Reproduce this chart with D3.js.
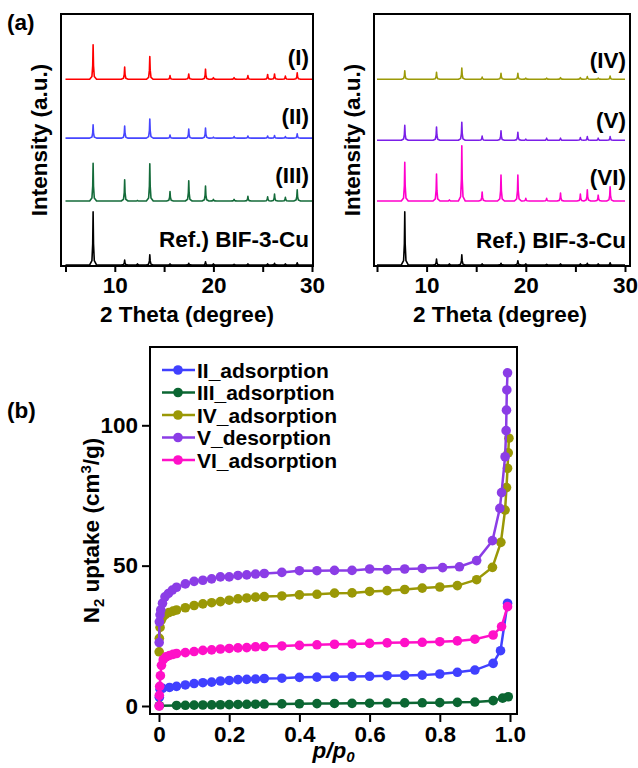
<!DOCTYPE html>
<html><head><meta charset="utf-8">
<script src="https://cdn.jsdelivr.net/npm/d3@7/dist/d3.min.js"></script>
<style>
html,body{margin:0;padding:0;background:#fff;}
text{font-family:"Liberation Sans",Arial,Helvetica,sans-serif;font-weight:bold;fill:#000;}
</style></head>
<body><svg id="c" width="638" height="768"></svg>
<script>
// ---------- DATA ----------
// XRD peak positions (2 theta, degree) shared by all patterns
const peakPos = [7.8, 11.0, 12.3, 13.55, 15.6, 17.5, 19.2, 20.0, 22.1, 23.5, 25.5, 26.2, 27.3, 28.5];
// peak heights (a.u.) per pattern, offsets (a.u.) of each trace
const xrdI    = [65, 23, 0, 43, 7, 10, 19, 3, 3, 7, 9, 10, 6, 12];
const xrdII   = [25, 23, 0, 36, 6, 17, 19, 2, 3, 4, 4, 5, 3, 8];
const xrdIII  = [71, 40, 1, 70, 18, 38, 28, 3, 3, 9, 8, 13, 7, 21];
const xrdRefL = [100, 9, 2, 19, 2, 3, 6, 2, 1, 2, 2, 3, 2, 4];
const xrdIV   = [16, 13, 0, 21, 4, 11, 11, 2, 2, 3, 3, 5, 2, 6];
const xrdV    = [28, 25, 0, 34, 8, 18, 15, 2, 4, 4, 5, 7, 4, 7];
const xrdVI   = [73, 51, 2, 104, 17, 49, 49, 5, 5, 15, 13, 21, 11, 27];
const xrdRefR = [100, 11, 2, 19, 2, 3, 8, 2, 1, 2, 2, 3, 2, 4];
const leftLabels  = ["(I)", "(II)", "(III)", "Ref.) BIF-3-Cu"];
const rightLabels = ["(IV)", "(V)", "(VI)", "Ref.) BIF-3-Cu"];
const leftOffsets  = [352, 241, 122.5, 2];
const rightOffsets = [352, 237, 122.5, 2];
const xrdTicks = [5, 10, 15, 20, 25, 30];
const xrdTickLabels = [10, 20, 30];

// N2 isotherms: relative pressure p/p0 and uptake (cm3/g)
const pII  = [0.001, 0.003, 0.01, 0.03, 0.05, 0.075, 0.1, 0.125, 0.15, 0.175, 0.2, 0.225, 0.25, 0.275, 0.3, 0.35, 0.4, 0.45, 0.5, 0.55, 0.6, 0.65, 0.7, 0.75, 0.8, 0.85, 0.9, 0.952, 0.973, 0.993];
const vII  = [3.1, 6.0, 6.3, 6.6, 7.0, 7.5, 8.0, 8.3, 8.5, 8.9, 9.1, 9.4, 9.5, 9.6, 9.8, 9.9, 10.2, 10.3, 10.4, 10.5, 10.6, 10.8, 10.9, 11.0, 11.4, 12.0, 12.8, 15.2, 19.7, 36.6];
const pIII = [0.001, 0.05, 0.075, 0.1, 0.125, 0.15, 0.175, 0.2, 0.225, 0.25, 0.275, 0.3, 0.35, 0.4, 0.45, 0.5, 0.55, 0.6, 0.65, 0.7, 0.75, 0.8, 0.85, 0.9, 0.952, 0.979, 0.995];
const vIII = [0.1, 0.2, 0.25, 0.3, 0.35, 0.4, 0.45, 0.5, 0.55, 0.6, 0.65, 0.7, 0.75, 0.8, 0.85, 0.9, 0.95, 1.0, 1.05, 1.1, 1.15, 1.2, 1.3, 1.4, 1.9, 2.8, 3.3];
const pIV  = [0.0005, 0.001, 0.003, 0.006, 0.01, 0.018, 0.028, 0.04, 0.05, 0.075, 0.1, 0.125, 0.15, 0.175, 0.2, 0.225, 0.25, 0.275, 0.3, 0.35, 0.4, 0.45, 0.5, 0.55, 0.6, 0.65, 0.7, 0.75, 0.8, 0.85, 0.905, 0.95, 0.974, 0.986, 0.99, 0.993, 0.995, 0.997];
const vIV  = [19.3, 24.1, 28.0, 30.5, 31.5, 32.6, 33.3, 33.8, 34.2, 35.0, 35.8, 36.4, 36.8, 37.2, 37.7, 38.2, 38.5, 38.8, 39.0, 39.2, 39.6, 39.8, 40.2, 40.3, 40.8, 41.1, 41.5, 42.0, 42.4, 42.9, 45.0, 49.4, 58.3, 69.8, 77.8, 84.7, 90.2, 95.4];
const pV   = [0.0005, 0.001, 0.003, 0.005, 0.01, 0.017, 0.027, 0.038, 0.05, 0.075, 0.1, 0.125, 0.15, 0.175, 0.2, 0.225, 0.25, 0.275, 0.3, 0.35, 0.4, 0.45, 0.5, 0.55, 0.6, 0.65, 0.7, 0.75, 0.808, 0.856, 0.905, 0.95, 0.971, 0.976, 0.986, 0.989, 0.99, 0.991, 0.993];
const vV   = [22.6, 30.0, 32.5, 34.2, 36.6, 38.9, 40.1, 41.3, 42.3, 43.5, 44.4, 44.8, 45.3, 46.0, 46.0, 46.5, 46.7, 47.0, 47.2, 47.6, 48.2, 48.2, 48.3, 48.3, 48.8, 48.6, 48.8, 49.0, 49.3, 49.6, 51.8, 58.9, 70.4, 76.0, 88.8, 98.1, 105.4, 112.6, 118.7];
const pVI  = [0.0005, 0.001, 0.002, 0.004, 0.007, 0.012, 0.02, 0.03, 0.04, 0.05, 0.075, 0.1, 0.125, 0.15, 0.175, 0.2, 0.225, 0.25, 0.275, 0.3, 0.35, 0.4, 0.45, 0.5, 0.55, 0.6, 0.65, 0.7, 0.75, 0.8, 0.85, 0.9, 0.952, 0.976, 0.993];
const vVI  = [0, 3.8, 7.0, 10.8, 14.5, 16.5, 17.5, 18.0, 18.4, 18.7, 19.0, 19.4, 19.8, 20.0, 20.3, 20.5, 20.7, 20.8, 21.1, 21.2, 21.4, 21.6, 21.8, 22.0, 22.1, 22.3, 22.5, 22.6, 22.7, 22.9, 23.2, 23.8, 25.3, 28.3, 35.4];
const isoNames = ["II_adsorption", "III_adsorption", "IV_adsorption", "V_desorption", "VI_adsorption"];
const isoTicksX = [0, 0.2, 0.4, 0.6, 0.8, 1.0];
const isoTicksY = [0, 50, 100];

// ---------- STYLE ----------
const colL = ["#ff0000", "#4646ff", "#146b3a", "#000000"];
const colR = ["#9c9a08", "#7b1fe8", "#ff00cc", "#000000"];
const isoCol = ["#4040ff", "#0b6632", "#9a9806", "#8b3de6", "#ff10c8"];
const leftLabelY  = [57, 116, 175, 239];
const rightLabelY = [60, 120, 177, 240];

const svg = d3.select("#c");
const FS = 22.5;
const LFS = 21;

// ---------- PANEL (a) ----------
function xrdPanel(fr, xr, patterns, offsets, labels, labelY, colors, titleX, yTitleX) {
  const x = d3.scaleLinear().domain([5, 30]).range(xr);
  const y = d3.scaleLinear().domain([0, 475]).range([fr.b, fr.t]);
  const g = svg.append("g");
  const shapeDx = [-0.35, -0.12, -0.04, 0, 0.04, 0.12, 0.35];
  const shapeF  = [0, 0.08, 0.4, 1, 0.4, 0.08, 0];
  const line = d3.line().x(d => x(d[0])).y(d => y(d[1]));
  patterns.forEach((hs, i) => {
    const off = offsets[i];
    const pts = [[5, off]];
    peakPos.forEach((p, k) => {
      shapeDx.forEach((dx, j) => pts.push([p + dx, off + hs[k] * shapeF[j]]));
    });
    pts.push([30, off]);
    g.append("path").attr("d", line(pts)).attr("fill", "none")
      .attr("stroke", colors[i]).attr("stroke-width", 1.6).attr("stroke-linejoin", "round");
    g.append("text").attr("x", fr.r - 4).attr("y", labelY[i]).attr("dy", "0.36em")
      .attr("text-anchor", "end").attr("font-size", FS).text(labels[i]);
  });
  g.append("rect").attr("x", fr.l).attr("y", fr.t).attr("width", fr.r - fr.l).attr("height", fr.b - fr.t)
    .attr("fill", "none").attr("stroke", "#000").attr("stroke-width", 2);
  const ax = g.append("g").attr("transform", `translate(0,${fr.b})`)
    .call(d3.axisBottom(x).tickValues(xrdTicks).tickSize(6).tickPadding(5)
      .tickFormat(d => xrdTickLabels.includes(d) ? d : ""));
  ax.select(".domain").remove();
  ax.selectAll("line").attr("stroke-width", 2);
  ax.selectAll("text").attr("font-size", FS).attr("font-family", null);
  g.append("text").attr("x", titleX).attr("y", 322).attr("text-anchor", "middle")
    .attr("font-size", FS).text("2 Theta (degree)");
  g.append("text").attr("transform", `translate(${yTitleX},${(fr.t + fr.b) / 2}) rotate(-90)`)
    .attr("text-anchor", "middle").attr("font-size", FS).attr("dy", "0.35em").text("Intensity (a.u.)");
}
xrdPanel({l: 61, r: 313, t: 14, b: 266}, [65.5, 312],
  [xrdI, xrdII, xrdIII, xrdRefL], leftOffsets, leftLabels, leftLabelY, colL, 187, 39);
xrdPanel({l: 374, r: 630, t: 14, b: 266}, [377, 625],
  [xrdIV, xrdV, xrdVI, xrdRefR], rightOffsets, rightLabels, rightLabelY, colR, 500, 352);

svg.append("text").attr("x", 7).attr("y", 30).attr("font-size", FS).text("(a)");
svg.append("text").attr("x", 7).attr("y", 418).attr("font-size", FS).text("(b)");

// ---------- PANEL (b) ----------
const fb = {l: 150, r: 517, t: 347, b: 714};
const xb = d3.scaleLinear().domain([0, 1]).range([159, 510]);
const yb = d3.scaleLinear().domain([0, 100]).range([706, 425.3]);
const gb = svg.append("g");
gb.append("rect").attr("x", fb.l).attr("y", fb.t).attr("width", fb.r - fb.l).attr("height", fb.b - fb.t)
  .attr("fill", "none").attr("stroke", "#000").attr("stroke-width", 2);
const axb = gb.append("g").attr("transform", `translate(0,${fb.b})`)
  .call(d3.axisBottom(xb).tickValues(isoTicksX).tickSize(8).tickPadding(4)
    .tickFormat(d => d === 0 ? "0" : d3.format(".1f")(d)));
axb.select(".domain").remove();
axb.selectAll("line").attr("stroke-width", 2);
axb.selectAll("text").attr("font-size", FS).attr("font-family", null);
const ayb = gb.append("g").attr("transform", `translate(${fb.l},0)`)
  .call(d3.axisLeft(yb).tickValues(isoTicksY).tickSize(8).tickPadding(4));
ayb.select(".domain").remove();
ayb.selectAll("line").attr("stroke-width", 2);
ayb.selectAll("text").attr("font-size", FS).attr("font-family", null);

const isoP = [pII, pIII, pIV, pV, pVI];
const isoV = [vII, vIII, vIV, vV, vVI];
const lineB = d3.line().x(d => xb(d[0])).y(d => yb(d[1]));
isoP.forEach((ps, i) => {
  const pts = ps.map((p, k) => [p, isoV[i][k]]);
  const s = gb.append("g");
  s.append("path").attr("d", lineB(pts)).attr("fill", "none")
    .attr("stroke", isoCol[i]).attr("stroke-width", 2.5);
  s.selectAll("circle").data(pts).join("circle")
    .attr("cx", d => xb(d[0])).attr("cy", d => yb(d[1])).attr("r", 4.8)
    .attr("fill", isoCol[i]);
});

// legend
isoNames.forEach((n, i) => {
  const yy = 370 + i * 22.5;
  gb.append("line").attr("x1", 162).attr("x2", 195).attr("y1", yy).attr("y2", yy)
    .attr("stroke", isoCol[i]).attr("stroke-width", 2.5);
  gb.append("circle").attr("cx", 178).attr("cy", yy).attr("r", 4.8).attr("fill", isoCol[i]);
  gb.append("text").attr("x", 197).attr("y", yy).attr("dy", "0.36em").attr("font-size", LFS)
    .attr("textLength", null).text(n);
});

// axis titles
const yt = gb.append("text").attr("transform", `translate(91,${(fb.t + fb.b) / 2}) rotate(-90)`)
  .attr("text-anchor", "middle").attr("font-size", FS).attr("dy", "0.35em");
yt.append("tspan").text("N");
yt.append("tspan").attr("font-size", 15).attr("dy", 5).text("2");
yt.append("tspan").attr("dy", -5).text(" uptake (cm");
yt.append("tspan").attr("font-size", 15).attr("dy", -8).text("3");
yt.append("tspan").attr("dy", 8).text("/g)");

const xt = gb.append("text").attr("x", (fb.l + fb.r) / 2).attr("y", 758)
  .attr("text-anchor", "middle").attr("font-size", FS).attr("font-style", "italic");
xt.append("tspan").text("p/p");
xt.append("tspan").attr("font-size", 15).attr("dy", 4).text("0");
</script></body></html>
